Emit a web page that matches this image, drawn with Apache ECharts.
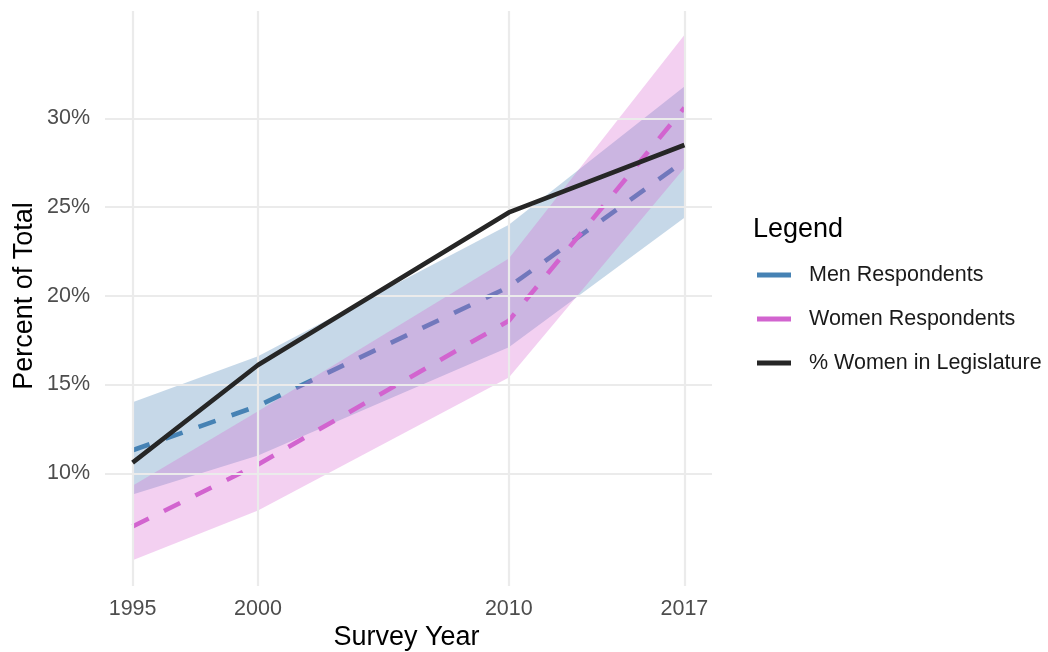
<!DOCTYPE html>
<html>
<head>
<meta charset="utf-8">
<script src="https://cdn.jsdelivr.net/npm/echarts@6/dist/echarts.min.js"></script>
<style>
  html, body { margin: 0; padding: 0; background: #ffffff; }
  #chart { width: 1048px; height: 652px; }
</style>
</head>
<body>
<div id="chart"></div>
<script>
// Survey years and shares (percent)
const years = [1995, 2000, 2010, 2017];
const menPct = [11.3, 13.8, 20.5, 27.6];
const menLow = [8.8, 11.0, 17.1, 24.4];
const menHigh = [14.0, 16.6, 24.0, 31.8];
const womenPct = [7.0, 10.5, 18.6, 30.6];
const womenLow = [5.1, 7.9, 15.4, 27.2];
const womenHigh = [9.3, 13.5, 22.1, 34.7];
const legislature = [10.6, 16.1, 24.7, 28.5];
const yTicks = [10, 15, 20, 25, 30];

const FONT = '"Liberation Sans", Arial, sans-serif';
const GRID_COLOR = '#ebebeb';

function pairs(xs, ys) {
  return xs.map((x, i) => [x, ys[i]]);
}

// Confidence band drawn as a single polygon through the axis scales
function ribbon(name, low, high, fill, z) {
  return {
    type: 'custom',
    name: name,
    z: z,
    silent: true,
    data: years.map((y, i) => [y, low[i], high[i]]),
    encode: { x: 0, y: [1, 2] },
    renderItem: function (params, api) {
      if (params.dataIndex !== 0) return null;
      const upper = years.map((y, i) => api.coord([y, high[i]]));
      const lower = years.map((y, i) => api.coord([y, low[i]])).reverse();
      return {
        type: 'polygon',
        shape: { points: upper.concat(lower) },
        style: { fill: fill, stroke: null }
      };
    }
  };
}

function titleText(text, x, y, rotation, align) {
  return {
    type: 'text',
    x: x,
    y: y,
    rotation: rotation,
    silent: true,
    style: {
      text: text,
      fontFamily: FONT,
      fontSize: 27,
      fill: '#000000',
      align: align,
      verticalAlign: 'middle'
    }
  };
}

const chart = echarts.init(document.getElementById('chart'), null, { renderer: 'canvas' });

chart.setOption({
  animation: false,
  backgroundColor: '#ffffff',
  textStyle: { fontFamily: FONT },
  graphic: [
    titleText('Survey Year', 406.5, 637.5, 0, 'center'),
    titleText('Percent of Total', 24.5, 296, Math.PI / 2, 'center'),
    titleText('Legend', 753, 229.5, 0, 'left')
  ],
  legend: {
    orient: 'vertical',
    left: 757,
    top: 263,
    padding: 0,
    itemGap: 20,
    itemWidth: 34,
    itemHeight: 5,
    icon: 'rect',
    data: ['Men Respondents', 'Women Respondents', '% Women in Legislature'],
    textStyle: {
      fontFamily: FONT,
      fontSize: 21.5,
      color: '#1a1a1a',
      lineHeight: 24,
      padding: [0, 0, 0, 13]
    }
  },
  grid: { left: 105, right: 336, top: 11, bottom: 66, containLabel: false },
  xAxis: {
    type: 'value',
    min: 1993.9,
    max: 2018.1,
    axisLine: { show: false },
    axisTick: { show: false },
    splitLine: { show: false },
    axisLabel: {
      customValues: years,
      formatter: v => String(v),
      margin: 12,
      fontFamily: FONT,
      fontSize: 21.5,
      color: '#4d4d4d'
    }
  },
  yAxis: {
    type: 'value',
    min: 3.65,
    max: 36.05,
    axisLine: { show: false },
    axisTick: { show: false },
    splitLine: { show: false },
    axisLabel: {
      customValues: yTicks,
      formatter: v => v + '%',
      margin: 15,
      fontFamily: FONT,
      fontSize: 21.5,
      color: '#4d4d4d'
    }
  },
  series: [
    {
      // major grid lines at the labelled breaks
      type: 'line',
      name: 'grid',
      data: [],
      z: 0,
      silent: true,
      markLine: {
        silent: true,
        symbol: 'none',
        label: { show: false },
        lineStyle: { color: GRID_COLOR, width: 2.2, type: 'solid' },
        data: yTicks.map(v => ({ yAxis: v })).concat(years.map(v => ({ xAxis: v })))
      }
    },
    ribbon('Men band', menLow, menHigh, 'rgba(70,130,180,0.31)', 1),
    {
      type: 'line',
      name: 'Men Respondents',
      data: pairs(years, menPct),
      z: 2,
      symbol: 'none',
      color: '#4682b4',
      lineStyle: { width: 4.6, type: [18, 17], cap: 'butt', color: '#4682b4' }
    },
    ribbon('Women band', womenLow, womenHigh, 'rgba(214,100,210,0.3)', 3),
    {
      type: 'line',
      name: 'Women Respondents',
      data: pairs(years, womenPct),
      z: 4,
      symbol: 'none',
      color: '#d264cf',
      lineStyle: { width: 4.6, type: [18, 17], cap: 'butt', color: '#d264cf' }
    },
    {
      type: 'line',
      name: '% Women in Legislature',
      data: pairs(years, legislature),
      z: 5,
      symbol: 'none',
      color: '#262626',
      lineStyle: { width: 4.6, type: 'solid', color: '#262626' }
    }
  ]
});
</script>
</body>
</html>
